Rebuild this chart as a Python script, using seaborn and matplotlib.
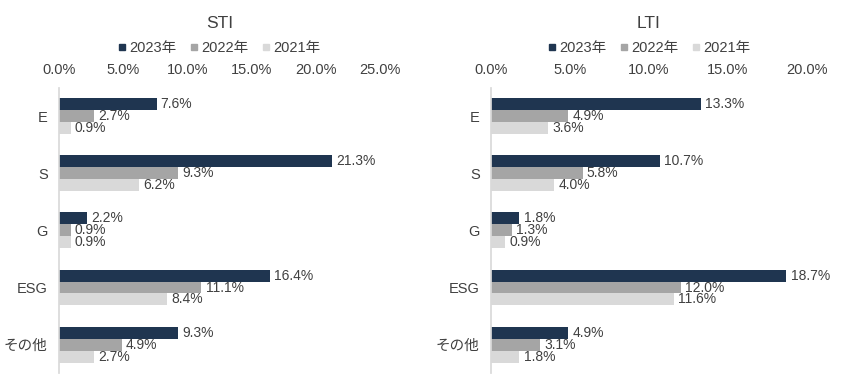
import matplotlib
matplotlib.use("Agg")
import matplotlib.pyplot as plt
import seaborn as sns
import pandas as pd
from matplotlib.lines import Line2D

categories = ["E", "S", "G", "ESG", "その他"]
years = ["2023年", "2022年", "2021年"]
sti_2023 = [7.6, 21.3, 2.2, 16.4, 9.3]
sti_2022 = [2.7, 9.3, 0.9, 11.1, 4.9]
sti_2021 = [0.9, 6.2, 0.9, 8.4, 2.7]
lti_2023 = [13.3, 10.7, 1.8, 18.7, 4.9]
lti_2022 = [4.9, 5.8, 1.3, 12.0, 3.1]
lti_2021 = [3.6, 4.0, 0.9, 11.6, 1.8]
sti_ticks = [0, 5, 10, 15, 20, 25]
lti_ticks = [0, 5, 10, 15, 20]

colors = ["#1F3550", "#A5A5A5", "#D9D9D9"]
text_color = "#404040"
fs = 10.5

sns.set_theme(style="white")
plt.rcParams["font.family"] = ["Liberation Sans", "Noto Sans CJK JP", "DejaVu Sans"]

def make_df(v23, v22, v21):
    rows = []
    for y, vals in zip(years, [v23, v22, v21]):
        for c, v in zip(categories, vals):
            rows.append({"cat": c, "year": y, "value": v})
    return pd.DataFrame(rows)

fig = plt.figure(figsize=(8.5, 3.87), dpi=100)
ax1 = fig.add_axes([0.0694, 0.036, 0.3776, 0.737])
ax2 = fig.add_axes([0.5776, 0.036, 0.3718, 0.737])

for ax, title, data, ticks in [
    (ax1, "STI", make_df(sti_2023, sti_2022, sti_2021), sti_ticks),
    (ax2, "LTI", make_df(lti_2023, lti_2022, lti_2021), lti_ticks),
]:
    sns.barplot(data=data, y="cat", x="value", hue="year", orient="h",
                palette=colors, width=0.63, ax=ax, legend=False, saturation=1,
                linewidth=0)
    for cont in ax.containers:
        ax.bar_label(cont, fmt="%.1f%%", padding=3, fontsize=10, color=text_color)
    ax.set_xlim(ticks[0], ticks[-1])
    ax.set_ylim(4.5, -0.5)
    ax.set_xticks(ticks)
    ax.set_xticklabels([f"{t:.1f}%" for t in ticks])
    ax.xaxis.tick_top()
    ax.tick_params(axis="x", length=0, pad=8, labelsize=fs, colors=text_color)
    ax.tick_params(axis="y", length=0, pad=8, labelsize=fs, colors=text_color)
    ax.set_xlabel("")
    ax.set_ylabel("")
    for s in ["top", "right", "bottom"]:
        ax.spines[s].set_visible(False)
    ax.spines["left"].set_color("#D9D9D9")
    ax.set_title(title, fontsize=12.5, color=text_color, y=1.21, pad=0)
    handles = [Line2D([0], [0], marker="s", linestyle="", markersize=5,
                      markerfacecolor=c, markeredgecolor=c) for c in colors]
    ax.legend(handles, years, loc="center", bbox_to_anchor=(0.5, 1.14),
              ncol=3, frameon=False, fontsize=fs, handlelength=0.6,
              handletextpad=0.2, columnspacing=0.9, labelcolor=text_color,
              borderaxespad=0)

fig.savefig("out.png", dpi=100)
